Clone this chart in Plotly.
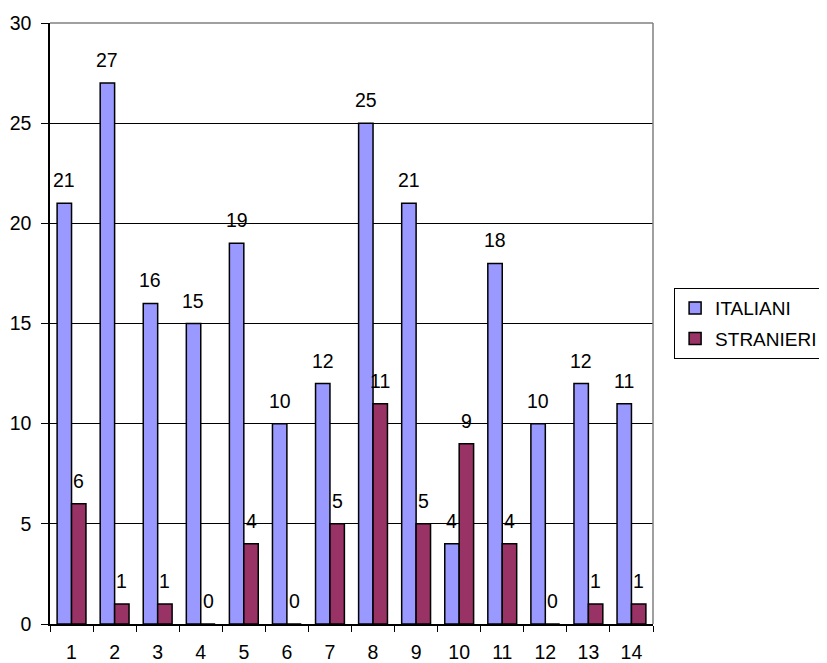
import plotly.graph_objects as go

categories = ["1", "2", "3", "4", "5", "6", "7", "8", "9", "10", "11", "12", "13", "14"]
italiani = [21, 27, 16, 15, 19, 10, 12, 25, 21, 4, 18, 10, 12, 11]
stranieri = [6, 1, 1, 0, 4, 0, 5, 11, 5, 9, 4, 0, 1, 1]

FS = 19.5
FAM = "Arial, Liberation Sans, sans-serif"
font = dict(family=FAM, size=FS, color="black")

W, H = 827, 663
ML, MR, MT, MB = 42, 178, 15, 47
BARGAP = 0.33

fig = go.Figure()
fig.add_trace(go.Bar(
    x=categories, y=italiani, name="ITALIANI", legendgroup="a",
    marker=dict(color="#9999FF", line=dict(color="black", width=1.5)),
))
fig.add_trace(go.Bar(
    x=categories, y=stranieri, name="STRANIERI", legendgroup="b",
    marker=dict(color="#993366", line=dict(color="black", width=1.5)),
))

# value labels above bars, offset to each bar within its group
plot_w = W - ML - MR
bar_px = plot_w / len(categories) * (1 - BARGAP) / 2
annotations = []
for series, shift in ((italiani, -bar_px / 2), (stranieri, bar_px / 2)):
    for i, v in enumerate(series):
        annotations.append(dict(
            x=i, y=v, xref="x", yref="y", text=str(v), showarrow=False,
            xanchor="center", yanchor="bottom", xshift=shift, yshift=10,
            font=font,
        ))

fig.update_layout(
    width=W, height=H,
    margin=dict(l=ML, r=MR, t=MT, b=MB),
    paper_bgcolor="white", plot_bgcolor="white",
    barmode="group", bargap=BARGAP, bargroupgap=0,
    font=font,
    showlegend=True,
    legend=dict(
        x=1.035, y=0.559, xanchor="left", yanchor="top",
        bordercolor="black", borderwidth=1,
        font=dict(family=FAM, size=19, color="black"), traceorder="grouped",
        itemwidth=30, tracegroupgap=3,
    ),
    xaxis=dict(
        type="category", tickson="boundaries",
        range=[-0.5, len(categories) - 0.5],
        ticks="outside", ticklen=6, tickcolor="black",
        showline=True, linecolor="black", linewidth=1.5,
        showgrid=False, tickfont=font, ticklabelstandoff=10,
        automargin=False,
    ),
    yaxis=dict(
        range=[0, 30], tickvals=[0, 5, 10, 15, 20, 25, 30],
        ticks="outside", ticklen=7, tickcolor="black",
        showline=True, linecolor="black", linewidth=1.5,
        showgrid=True, gridcolor="black", gridwidth=1,
        tickfont=font, zeroline=False, ticklabelstandoff=6,
        automargin=False,
    ),
    annotations=annotations,
    shapes=[
        dict(type="line", xref="paper", yref="paper", x0=0, x1=1, y0=1, y1=1,
             line=dict(color="#808080", width=1.5)),
        dict(type="line", xref="paper", yref="paper", x0=1, x1=1, y0=0, y1=1,
             line=dict(color="#808080", width=1.5)),
    ],
)

fig.write_html("out.html")
